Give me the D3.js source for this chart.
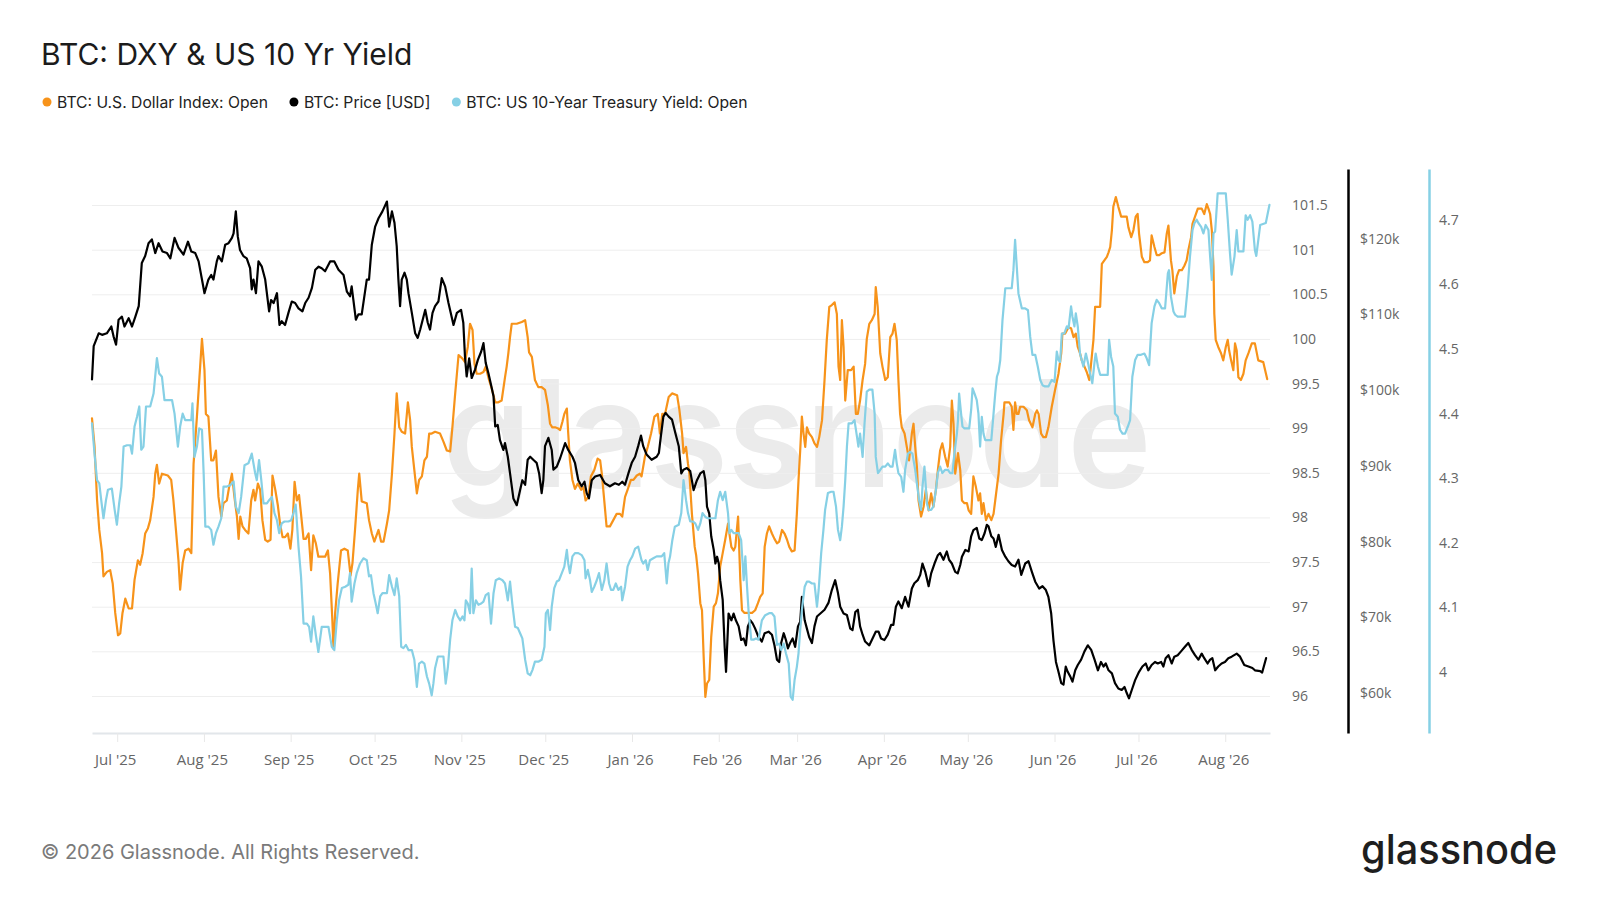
<!DOCTYPE html>
<html>
<head>
<meta charset="utf-8">
<title>BTC: DXY & US 10 Yr Yield</title>
<script src="https://cdn.jsdelivr.net/npm/d3@7"></script>
<style>
  body { margin: 0; background: #fff; }
  svg { display: block; font-family: Inter, "Noto Sans", sans-serif; }
  .axis text { font-family: "Open Sans", "Noto Sans", sans-serif; font-size: 14px; fill: #666; }
  .xaxis text { font-size: 15px; }
</style>
</head>
<body>
<div id="chart"></div>
<script>
// series: [days since 2025-06-22, value]
var startDate = new Date(2025, 5, 22);
var lastDay = 421;

var seriesNames = ["BTC: U.S. Dollar Index: Open", "BTC: Price [USD]", "BTC: US 10-Year Treasury Yield: Open"];

var dxyOpen = [[0,99.11],[0.9,98.8],[1.8,98.2],[2.6,97.86],[3.6,97.6],[4.1,97.34],[5.3,97.39],[6.5,97.41],[7.4,97.26],[8.3,96.93],[9.3,96.68],[10.1,96.7],[10.9,96.93],[11.9,97.09],[13.1,96.98],[14.3,96.98],[15.2,97.3],[16.4,97.52],[17.2,97.47],[18.1,97.6],[19,97.82],[20,97.88],[20.8,97.97],[22,98.23],[22.6,98.49],[23.2,98.59],[24,98.38],[25,98.49],[27.1,98.47],[28.3,98.42],[29.1,98.19],[30,97.86],[30.9,97.52],[31.5,97.19],[32.4,97.49],[33.3,97.63],[34.5,97.65],[35.5,97.6],[36.3,98.6],[37.5,99.13],[38.4,99.57],[39.3,100],[40.2,99.65],[40.7,99.16],[41.6,99.13],[42.6,98.64],[43.4,98.64],[44.3,98.75],[45.2,98.23],[46.2,98.01],[47,98.16],[48.2,98.19],[49,98.34],[50,98.49],[50.9,98.23],[51.8,98.01],[52.4,97.76],[53,98.01],[53.8,97.9],[54.7,97.86],[55.9,97.82],[56.9,98.19],[57.7,98.31],[58.3,98.19],[59.3,98.38],[60.1,98.31],[60.9,97.97],[61.9,97.75],[62.8,97.73],[63.8,97.75],[64.5,98.47],[65.5,98.31],[66.4,98.14],[67.2,97.93],[68.1,97.78],[69,97.78],[70,97.82],[70.9,97.65],[71.6,97.86],[72.4,98.4],[73.2,98.19],[74,98.25],[74.7,98.04],[75.6,97.76],[76.4,97.76],[77.4,97.82],[78.3,97.41],[79.1,97.8],[80,97.71],[80.9,97.56],[82.1,97.56],[83.3,97.56],[84.3,97.63],[85.1,97.37],[85.9,96.85],[86.3,96.53],[86.9,96.93],[87.8,97.26],[89,97.63],[90.2,97.65],[91.4,97.63],[92.4,97.35],[93.1,97.49],[94,97.86],[95,98.31],[95.5,98.49],[96.4,98.18],[98.2,98.16],[99,97.97],[100,97.82],[100.9,97.73],[102.4,97.86],[103.3,97.73],[104.2,97.73],[105.4,97.93],[106.2,98.08],[107.2,98.49],[108.1,98.94],[108.9,99.39],[109.8,99.01],[110.7,98.96],[111.9,98.94],[112.9,99.29],[113.7,99.09],[114.3,98.79],[115.2,98.53],[116.1,98.27],[116.9,98.42],[117.9,98.46],[118.8,98.64],[119.7,98.68],[120.5,98.94],[121.4,98.94],[122.6,98.96],[124.4,98.94],[125.6,98.85],[126.8,98.75],[128,98.74],[128.8,99.01],[129.8,99.39],[131,99.82],[132.4,99.78],[133.3,99.74],[134.3,99.91],[135.1,100.17],[136,100.1],[136.7,99.72],[137.5,99.61],[138.7,99.61],[139.9,99.63],[140.7,99.69],[141.9,99.54],[142.9,99.44],[144.1,99.29],[145.2,99.29],[146.4,99.31],[147.6,99.57],[148.2,99.69],[148.8,99.84],[149.4,100.02],[150,100.17],[151.8,100.17],[153.6,100.19],[154.8,100.21],[155.7,100.02],[156.2,99.85],[157.2,99.8],[158.3,99.54],[159.5,99.46],[160.7,99.46],[161.9,99.43],[162.9,99.26],[163.7,99.05],[164.5,99.01],[165.5,99.01],[166.4,99],[167.3,98.98],[168.1,99.07],[168.8,99.16],[169.7,99.22],[170.2,98.94],[170.8,98.64],[171.7,98.42],[172.6,98.32],[173.6,98.38],[174.8,98.31],[175.6,98.34],[176.4,98.19],[177.4,98.23],[178.3,98.46],[179.5,98.53],[180.7,98.66],[181.6,98.64],[182.2,98.49],[183.1,98.18],[183.9,97.9],[185.1,97.9],[186.3,97.97],[187.5,98.04],[188.7,98.04],[189.5,98.01],[190.5,98.23],[191.4,98.31],[192.6,98.42],[193.5,98.42],[194.7,98.47],[195.8,98.49],[196.4,98.46],[197.6,98.68],[198.6,98.79],[199.8,98.94],[201,99.13],[202.2,99.16],[203,98.94],[203.8,99.16],[204.8,99.16],[206.1,99.35],[207.3,99.39],[209.1,99.37],[209.9,99.21],[210.9,98.94],[211.4,98.72],[212.3,98.79],[213,98.6],[213.5,98.49],[214.4,98.04],[215.4,97.67],[215.9,97.58],[216.6,97.37],[217.4,97.04],[218,96.96],[218.6,96.44],[219.2,95.99],[219.8,96.14],[220.6,96.18],[221.3,96.66],[222.2,97],[223,97.04],[223.7,97.15],[224.5,97.45],[225.4,97.6],[226.3,97.75],[227.3,97.93],[227.8,97.82],[228.5,97.67],[229.3,97.63],[229.9,97.67],[230.9,98.01],[231.7,97.3],[232.3,96.96],[233.2,96.93],[234.4,96.93],[235.9,96.93],[237,96.96],[238,97.04],[238.8,97.11],[239.7,97.15],[240.4,97.67],[241.2,97.82],[242,97.9],[243,97.82],[243.9,97.76],[244.8,97.71],[245.6,97.73],[246.6,97.86],[247.5,97.82],[248.4,97.75],[249.2,97.67],[250.1,97.62],[251.1,97.63],[251.9,98.04],[252.5,98.42],[253.1,98.75],[253.7,99.13],[254.3,98.94],[254.9,98.79],[255.5,99.01],[256.3,98.94],[257.3,98.9],[258.2,98.83],[259.1,98.79],[259.9,98.9],[260.9,99.09],[261.8,99.54],[262.6,99.99],[263.5,100.36],[264.4,100.38],[265.4,100.41],[266.2,100.28],[266.8,99.69],[267.4,99.54],[268,100.21],[268.6,99.91],[269.2,99.31],[270.1,99.65],[271.3,99.65],[272.2,99.69],[273,99.16],[273.7,99.16],[274.5,99.31],[275.4,99.54],[276.3,99.72],[276.9,100],[277.8,100.17],[278.7,100.21],[279.7,100.28],[280.1,100.58],[280.8,100.36],[281.7,99.84],[282.5,99.69],[283.5,99.54],[284.4,99.57],[285.3,100.02],[286.1,100.06],[286.8,100.17],[287.6,99.99],[288.2,99.54],[288.8,99.16],[289.4,99.01],[290.4,98.94],[291.2,98.79],[292,98.64],[293,98.94],[293.6,99.05],[294.2,98.79],[294.8,98.57],[295.4,98.19],[296.3,98.01],[297.2,98.12],[298,98.31],[299,98.08],[299.9,98.27],[300.7,98.12],[301.6,98.31],[302.3,98.53],[303.1,98.75],[303.9,98.83],[304.9,98.68],[305.8,98.57],[306.7,98.79],[307.3,99.31],[307.9,99.05],[308.5,98.49],[309.5,98.72],[310.3,98.53],[310.9,98.19],[311.8,98.16],[312.7,98.16],[313.3,98.08],[314.2,98.04],[315,98.46],[315.9,98.34],[316.8,98.19],[317.4,98.27],[318,98.04],[318.6,98.16],[319.5,97.97],[320.4,98.04],[321.4,97.97],[322.2,98.04],[322.8,98.19],[324,98.49],[324.9,98.87],[325.8,99.16],[326.1,99.29],[327,99.29],[327.8,99.29],[328.7,99.24],[329.3,98.98],[329.9,99.29],[330.5,99.16],[331.1,99.16],[331.7,99.24],[332.9,99.24],[334.1,99.2],[334.9,99.09],[336.1,99.01],[337.1,99.16],[337.7,99.2],[338.3,99.16],[339.2,98.94],[340,98.9],[340.9,98.9],[341.8,99.01],[343,99.24],[344.2,99.43],[345.4,99.61],[346.4,99.84],[346.8,100.06],[347.8,100.06],[349,100.13],[349.9,100.12],[350.8,100.02],[351.6,100.06],[352.3,99.91],[353.1,99.84],[353.7,99.76],[354.7,99.69],[355.5,99.63],[356.4,99.54],[356.7,99.61],[357.3,99.8],[357.9,99.99],[358.5,100.36],[359.5,100.36],[360.3,100.36],[360.9,100.84],[361.8,100.88],[362.7,100.92],[363.3,100.97],[363.9,101.03],[364.5,101.22],[365,101.48],[365.9,101.59],[366.8,101.48],[367.8,101.37],[369,101.37],[369.8,101.37],[370.4,101.25],[371.4,101.14],[372.2,101.22],[373,101.37],[373.7,101.4],[374.2,101.18],[375.2,100.92],[376.1,100.86],[377.3,100.86],[378.1,100.88],[378.7,101.16],[379.7,101.03],[380.5,100.94],[381.4,100.94],[382.3,100.96],[383.3,100.97],[384.1,101.18],[384.7,101.27],[385.6,100.88],[386.1,100.77],[386.8,100.51],[387.7,100.7],[388.5,100.77],[389.5,100.77],[390.4,100.82],[391.2,100.88],[391.8,100.99],[392.8,101.14],[393.3,101.29],[394.2,101.37],[395.2,101.46],[396.6,101.46],[397.5,101.4],[398.4,101.51],[399,101.46],[399.6,101.4],[400.2,101.22],[400.8,100.81],[401.1,100.28],[401.6,99.99],[402.5,99.91],[403.5,99.84],[404.3,99.76],[405.2,99.91],[405.9,99.99],[406.4,99.87],[407.1,99.76],[407.9,99.65],[408.5,99.95],[409.1,99.87],[409.7,99.57],[410.6,99.54],[411.5,99.61],[412.3,99.76],[413.3,99.84],[414.5,99.95],[415.6,99.95],[416.8,99.76],[418.6,99.74],[420,99.55]];

// BTC price in thousands of USD
var btcPrice = [[0,101.4],[0.6,105.8],[2.4,107.5],[3.6,107.3],[5.3,107.5],[6.9,108.4],[7.7,107.1],[8.6,106],[9.5,109.3],[10.7,109.7],[11.6,108.4],[13.1,109.5],[14.3,108.4],[15.5,109.7],[16.7,111.1],[17.8,116.8],[19,117.7],[20.2,119.4],[21.4,119.9],[22.6,118.1],[23.8,119.4],[25.2,118.3],[26.8,118.1],[28,117.4],[29.5,120.1],[30.9,118.8],[32.7,117.9],[34.3,119.6],[35.5,118.3],[36.9,118.1],[38.1,117],[39.3,114.6],[40.2,112.8],[41.6,114.6],[42.6,115.2],[43.4,114.6],[44.6,117],[45.2,117.7],[46.4,117],[47.6,119.2],[48.8,119.4],[50,120.1],[50.6,120.7],[51.4,123.6],[52.1,120.3],[52.9,118.5],[54.1,117.7],[55.3,117.4],[56.5,116.1],[57.1,113.3],[57.7,114.6],[58.6,112.8],[59.5,117],[60.7,116.3],[61.9,114.6],[63.3,110.4],[64,111.9],[64.9,111.5],[66.1,112.8],[67,108.6],[67.8,109.1],[69,108.6],[70.2,110.2],[71.4,111.7],[72.6,111.5],[73.8,110.8],[75.2,110.4],[76.2,111.5],[77.4,112.2],[78.6,113.5],[79.8,115.9],[81,116.3],[82.1,116.1],[83.3,115.7],[85.1,117],[86.6,117],[88.1,115.9],[89.9,115.2],[91.1,113],[92.2,112.4],[92.8,113.7],[94.3,109.3],[95.2,110],[96.4,110],[98.2,114.6],[99,114.6],[100,119.2],[101.2,121.6],[102.4,122.7],[103.8,123.6],[105.4,124.9],[106.2,121.6],[107.2,123.6],[108.1,122.1],[108.9,119],[109.5,114.6],[110.1,111.1],[110.7,114.6],[111.7,115.5],[112.5,114.6],[113.1,112.8],[114.3,110.2],[115.5,107.5],[116.4,106.9],[117.3,108],[119.1,110.6],[120,108.9],[120.8,108],[121.7,110.2],[122.6,111.1],[123.8,111.7],[125,114.8],[126.2,113.7],[127.4,111.5],[129.2,108.6],[130.4,110.2],[131.9,110.6],[132.7,108.9],[133.3,104.4],[133.9,101.8],[134.8,104.2],[135.7,101.6],[136.9,102.7],[137.9,104],[139.1,105.1],[139.9,106.2],[140.7,103.6],[141.7,102.2],[142.6,100.7],[143.5,99.2],[144.1,95.2],[145,95.4],[145.8,93.4],[147,92.1],[147.6,93],[148.6,91.2],[149.4,89],[150.6,85.7],[151.8,84.8],[153,86.8],[153.8,88.1],[154.8,87.5],[155.7,90.8],[156.6,91.2],[157.7,90.8],[158.9,90.4],[159.8,89],[160.7,86.4],[161.3,88.1],[161.9,92.6],[163.1,93.7],[164.3,92.1],[164.9,89.5],[166.1,89.9],[167.3,91],[169.1,93],[170.2,92.1],[171.7,91.2],[172.6,90.4],[173.8,88.1],[175,87.3],[176,87.9],[176.8,86.4],[177.6,85.7],[178.6,88.1],[179.8,88.6],[181.6,88.8],[183.3,87.7],[185.1,87.3],[186.9,87.7],[188.3,87.5],[189.5,87.9],[190.5,87.5],[191.7,89],[192.9,90.4],[194.1,91.2],[195.2,92.6],[196.2,94],[197,92.6],[198.2,91.5],[200,90.8],[201.8,91.2],[202.6,91.7],[203.3,93.9],[204.2,96.5],[205,97],[206.1,96.5],[207.3,96.1],[208.5,94.3],[209.7,92.6],[210.6,89],[211.4,89.5],[212.6,89.7],[213.8,89.3],[215,86.8],[216.2,88.1],[217.4,89],[218.6,89.3],[219.2,88.1],[219.8,84.6],[220.6,83.7],[221.3,80.7],[222.2,78.9],[222.8,77.1],[223.4,78],[224,77.1],[224.5,74.9],[225.4,72.3],[226.1,66.1],[226.6,62.8],[227.5,70.5],[228.5,69.6],[229.3,70.5],[230.1,69.6],[231.1,68.8],[232,67],[232.9,67.2],[233.7,66.3],[234.4,68.8],[235.3,69.6],[236.1,69.2],[237,68.5],[238.2,67.4],[239.4,66.8],[240.4,67.9],[241.8,68.1],[243,67.7],[243.9,66.3],[244.8,64.4],[245.6,64.1],[246.3,66.6],[247.2,67.9],[248,67],[248.7,65.9],[249.5,66.6],[250.4,67.2],[251.3,66.1],[252.3,68.8],[253.1,69.4],[253.7,72.7],[254.7,69.6],[255.5,68.5],[256.3,67.4],[257.3,66.6],[258.2,68.8],[259.1,70.1],[260.3,70.5],[261.8,71],[263.2,71.9],[264.4,73.6],[265.6,74.9],[266.6,73.2],[267.4,71.4],[268.6,70.5],[269.8,70.3],[271,68.5],[271.8,68.3],[272.8,70.7],[273.7,71],[274.5,68.8],[275.4,67.7],[276.3,66.8],[277.8,66.3],[278.7,67],[280.1,68.1],[281.1,68.1],[282,67.2],[283.2,67],[284.4,67.7],[285.6,69],[286.4,69],[287.3,71.4],[288.2,72.1],[289.4,71.2],[290.6,72.7],[291.8,71.4],[293,73.8],[293.9,74.5],[295.1,74.9],[296,75.6],[296.8,77.1],[297.8,76],[299,74.1],[299.9,75.8],[301.1,77.1],[302.3,78.2],[303.1,78.5],[304.3,77.6],[305.5,78.7],[306.3,77.6],[307.3,77.1],[308.5,76],[309.4,75.8],[310.3,76.9],[310.9,78],[312.1,78.9],[313.3,78.7],[314.2,80.7],[315,81.5],[316.2,81.8],[317.1,80.4],[318,80.2],[319,81.1],[319.8,82.2],[320.4,82],[321.4,80.7],[322.2,80.4],[323,79.3],[324,80.9],[325.2,78.9],[326.4,78],[327.5,77.4],[328.7,76.9],[329.9,76.7],[331.1,77.6],[332.1,75.6],[333.5,77.1],[334.7,77.4],[335.9,76],[337.1,74.7],[338.5,73.8],[339.7,74.1],[340.9,73.6],[341.8,72.7],[342.8,70.5],[343.6,67],[344.5,64.1],[345.4,62.8],[346.4,61.3],[347.2,61.1],[348,63.5],[348.7,62.8],[349.6,62.2],[350.4,61.5],[351.4,63],[352.3,63.7],[353.5,64.4],[354.7,65.5],[355.9,66.3],[357.1,65.7],[358.3,64.4],[359.5,63],[360.6,64.1],[361.5,63.5],[362.3,63.9],[363.3,63],[364.5,62.6],[365.6,61.3],[366.8,60.6],[368,60.4],[369,60.8],[369.8,60],[370.6,59.3],[371.6,60.4],[372.8,61.7],[374.2,62.8],[375.4,63.5],[376.6,63.9],[377.5,63],[378.7,63.7],[379.9,64.1],[380.9,63.9],[382.1,64.1],[382.9,63.5],[383.7,64.6],[384.7,65],[385.9,63.9],[386.8,64.8],[388,65],[389.2,65.5],[390.6,66.1],[391.8,66.6],[393,65.7],[394.2,65],[395.4,64.4],[396.6,65.2],[397.5,64.6],[398.7,63.9],[399.6,64.4],[400.4,64.6],[401.4,63],[402.5,63.5],[403.7,63.9],[404.9,64.1],[406.1,64.6],[407.3,64.8],[409.1,65.2],[410.3,64.8],[411.8,63.7],[413.3,63.5],[414.7,63.3],[415.6,63],[417.5,62.9],[418.2,62.7],[419.6,64.6]];

var us10y = [[0,4.385],[0.9,4.338],[1.8,4.297],[2.6,4.292],[3.3,4.266],[4.1,4.238],[5,4.266],[5.7,4.282],[7.1,4.284],[8.1,4.251],[8.9,4.228],[9.7,4.261],[10.5,4.287],[11.3,4.349],[12.5,4.351],[13.7,4.351],[14.3,4.338],[15.2,4.38],[16.1,4.395],[16.9,4.411],[17.6,4.344],[18.4,4.349],[19.3,4.411],[20.8,4.411],[22,4.431],[23.2,4.486],[24,4.462],[25,4.457],[25.9,4.421],[27.1,4.421],[28.6,4.421],[29.5,4.4],[30.7,4.349],[31.5,4.38],[32.4,4.4],[33.3,4.39],[34.5,4.39],[35.5,4.39],[35.9,4.416],[36.6,4.333],[37.5,4.349],[38.3,4.377],[39.3,4.375],[39.9,4.308],[40.5,4.225],[41.6,4.225],[42.6,4.22],[43.4,4.197],[44.3,4.215],[45.2,4.225],[46.2,4.238],[47,4.287],[48.2,4.287],[49.4,4.289],[50.6,4.295],[51.4,4.256],[52.4,4.246],[53.3,4.271],[54.5,4.32],[55.9,4.323],[57.1,4.338],[58.3,4.308],[58.9,4.297],[59.7,4.328],[60.5,4.297],[61.3,4.261],[62.5,4.261],[63.3,4.266],[64.3,4.271],[65.2,4.246],[66.1,4.235],[66.9,4.215],[67.8,4.23],[68.8,4.233],[70.2,4.233],[71.2,4.235],[72,4.246],[72.8,4.259],[73.8,4.194],[74.7,4.148],[75.6,4.075],[76.8,4.075],[77.6,4.07],[78.3,4.047],[79.1,4.086],[80,4.057],[80.9,4.031],[82.1,4.07],[83.3,4.07],[84.5,4.07],[85.7,4.039],[86.6,4.034],[87.5,4.08],[88.3,4.111],[89.3,4.13],[90.5,4.132],[91.6,4.135],[92.2,4.153],[92.8,4.109],[93.8,4.137],[94.6,4.153],[95.8,4.168],[97,4.176],[98.2,4.173],[99,4.148],[99.7,4.15],[100.6,4.122],[101.4,4.106],[102.1,4.091],[103,4.117],[103.8,4.122],[105.4,4.122],[106.2,4.15],[107.2,4.132],[108.1,4.119],[108.9,4.145],[109.8,4.117],[110.5,4.039],[111.3,4.037],[112.2,4.042],[113.1,4.034],[114.3,4.034],[115.2,4.019],[116.1,3.977],[116.9,4.013],[117.9,4.016],[118.8,4.013],[119.7,3.993],[120.5,3.982],[121.4,3.964],[122,3.982],[122.6,4.006],[123.6,4.024],[124.8,4.024],[125.6,4.024],[126.4,3.982],[127.2,4.008],[128,4.05],[128.8,4.08],[129.8,4.096],[130.7,4.086],[131.6,4.08],[132.4,4.086],[133.1,4.08],[133.6,4.111],[134.3,4.106],[135.1,4.091],[135.7,4.16],[136.3,4.091],[137.2,4.111],[138.1,4.104],[139.1,4.106],[139.9,4.109],[140.7,4.119],[141.7,4.122],[142.6,4.075],[143.5,4.122],[144.3,4.142],[145.5,4.145],[146.7,4.142],[147.6,4.137],[148.6,4.111],[149.4,4.14],[150.2,4.106],[151.2,4.07],[152.2,4.068],[153,4.06],[153.8,4.052],[154.8,4.019],[155.7,3.998],[156.6,3.995],[157.4,4.003],[158.3,4.016],[159.5,4.016],[160.7,4.019],[161.7,4.039],[162.2,4.091],[162.9,4.096],[163.7,4.065],[164.3,4.101],[165.2,4.13],[166.1,4.14],[166.9,4.142],[167.9,4.153],[168.8,4.163],[169.7,4.189],[170.2,4.168],[170.8,4.153],[171.7,4.179],[172.6,4.184],[173.8,4.184],[175,4.181],[176,4.173],[176.4,4.145],[177.2,4.158],[178,4.142],[178.6,4.124],[179.5,4.132],[180.4,4.142],[181.2,4.153],[182.2,4.127],[183.1,4.142],[183.9,4.168],[184.8,4.137],[185.5,4.127],[186.3,4.127],[187.2,4.137],[188.1,4.127],[189.1,4.132],[189.5,4.111],[190.5,4.132],[191.4,4.163],[192.3,4.173],[193.1,4.179],[194.1,4.191],[195.2,4.194],[196.4,4.173],[197,4.168],[197.9,4.173],[198.6,4.158],[199.4,4.173],[200.6,4.176],[201.8,4.179],[202.6,4.179],[203.6,4.179],[204.5,4.184],[205.4,4.137],[206,4.168],[206.6,4.179],[207.4,4.204],[208.3,4.225],[209.7,4.228],[210.6,4.246],[211.4,4.297],[212.3,4.266],[213,4.246],[213.8,4.233],[214.7,4.233],[215.6,4.23],[216.6,4.22],[217.4,4.23],[218.2,4.246],[219.2,4.24],[220.1,4.238],[221.8,4.238],[222.8,4.238],[223.7,4.266],[224.5,4.279],[225.4,4.266],[226.3,4.279],[227.3,4.246],[227.8,4.215],[228.5,4.22],[229.3,4.215],[231.1,4.215],[232,4.204],[232.9,4.142],[233.5,4.179],[234.1,4.132],[234.7,4.091],[235.6,4.05],[236.4,4.05],[237.3,4.052],[238.2,4.05],[239.4,4.08],[240.6,4.088],[242,4.091],[243,4.091],[243.9,4.086],[244.8,4.042],[245.6,4.044],[246.3,4.034],[247.2,4.044],[248,4.029],[249,4.013],[249.7,3.962],[250.4,3.957],[251.1,3.988],[251.9,4.008],[252.5,4.029],[253.1,4.065],[253.7,4.096],[254.7,4.132],[255.5,4.14],[256.3,4.14],[257.3,4.137],[258.2,4.137],[259.1,4.101],[259.7,4.127],[260.6,4.184],[261.4,4.22],[262,4.251],[263,4.277],[264.2,4.279],[265,4.279],[265.9,4.256],[266.6,4.22],[267.4,4.204],[268,4.225],[268.6,4.256],[269.2,4.297],[269.8,4.349],[270.4,4.385],[271.6,4.385],[272.5,4.39],[273.4,4.364],[273.9,4.349],[274.5,4.369],[275.4,4.333],[276.1,4.385],[276.9,4.434],[277.8,4.437],[278.9,4.437],[279.7,4.4],[280.1,4.333],[280.9,4.308],[281.7,4.313],[282.5,4.318],[283.5,4.318],[284.4,4.323],[285.3,4.318],[286.1,4.318],[287,4.344],[287.6,4.323],[288.2,4.308],[289.2,4.302],[290,4.279],[290.6,4.313],[291.6,4.338],[292.4,4.341],[293.2,4.338],[294.2,4.313],[294.8,4.292],[295.6,4.266],[296.3,4.251],[296.8,4.287],[297.5,4.318],[298.4,4.261],[299,4.251],[299.9,4.251],[300.7,4.256],[301.6,4.282],[302.3,4.308],[303.1,4.318],[303.9,4.308],[304.9,4.313],[305.9,4.313],[306.7,4.308],[307.5,4.308],[308.2,4.338],[309.1,4.369],[309.5,4.39],[309.9,4.431],[310.6,4.4],[311.1,4.38],[311.8,4.377],[312.7,4.377],[313.5,4.377],[314.2,4.406],[314.7,4.439],[315.4,4.431],[316.2,4.421],[316.8,4.4],[317.4,4.349],[318,4.395],[318.6,4.369],[319.2,4.359],[320.4,4.359],[321.4,4.359],[322.2,4.4],[322.8,4.431],[323.4,4.457],[324,4.465],[324.6,4.483],[325.4,4.545],[326.4,4.594],[327.5,4.594],[328.7,4.594],[329.3,4.622],[329.9,4.669],[330.5,4.627],[331.1,4.586],[332.3,4.563],[333.5,4.563],[334.5,4.56],[335.3,4.519],[336.1,4.491],[337.1,4.491],[338,4.473],[338.9,4.452],[339.7,4.444],[340.6,4.442],[341.8,4.442],[343,4.452],[344,4.449],[344.8,4.496],[345.4,4.483],[346,4.48],[346.6,4.524],[347.5,4.524],[348.4,4.535],[349,4.532],[349.9,4.566],[350.4,4.55],[351.1,4.535],[351.6,4.555],[352.3,4.535],[353.1,4.493],[353.7,4.483],[354.3,4.473],[355.2,4.493],[355.9,4.48],[356.7,4.462],[357.5,4.447],[358.3,4.48],[358.7,4.493],[359.5,4.473],[360.3,4.46],[361.5,4.46],[363,4.46],[363.5,4.514],[364.2,4.488],[365,4.473],[365.6,4.4],[366.6,4.395],[367.4,4.375],[368.3,4.369],[369.2,4.369],[370.2,4.38],[371,4.39],[371.8,4.457],[372.8,4.483],[373.7,4.491],[374.9,4.491],[376.1,4.493],[376.9,4.486],[377.8,4.475],[378.7,4.54],[379.7,4.566],[380.5,4.576],[381.4,4.571],[382.3,4.563],[383.5,4.563],[384.5,4.617],[384.9,4.622],[385.6,4.581],[386.5,4.558],[387.1,4.553],[388,4.55],[389.5,4.55],[390.6,4.55],[391.6,4.596],[392.4,4.643],[393.3,4.684],[394,4.695],[394.8,4.7],[395.4,4.695],[396.4,4.689],[397.2,4.679],[398,4.692],[399,4.684],[399.6,4.643],[400.2,4.607],[400.8,4.679],[401.4,4.682],[402.3,4.741],[403.1,4.741],[404.3,4.741],[405.2,4.741],[405.9,4.7],[406.7,4.648],[407.3,4.615],[408.3,4.643],[409.1,4.684],[409.7,4.651],[410.6,4.651],[411.5,4.651],[412.3,4.707],[413,4.7],[413.9,4.707],[414.7,4.697],[415.6,4.653],[416.1,4.644],[417.5,4.692],[419.5,4.695],[420.8,4.723]];

var dxyTicks = [96, 96.5, 97, 97.5, 98, 98.5, 99, 99.5, 100, 100.5, 101, 101.5];
var priceTicks = [60, 70, 80, 90, 100, 110, 120];
var yieldTicks = [4, 4.1, 4.2, 4.3, 4.4, 4.5, 4.6, 4.7];

var W = 1600, H = 900;
var plot = { left: 92, right: 1270, top: 169, bottom: 733 };
var colors = { dxy: "#f7931a", price: "#000000", yld: "#86d0e5" };

function toDate(d) { return new Date(startDate.getTime() + d * 864e5); }

var x = d3.scaleTime()
    .domain([startDate, toDate(lastDay)])
    .range([plot.left, plot.right]);

var yDxy = d3.scaleLinear().domain([95.585, 101.904]).range([plot.bottom, plot.top]);
var yPrice = d3.scaleLinear().domain([54.72, 129.2]).range([plot.bottom, plot.top]);
var yYield = d3.scaleLinear().domain([3.9056, 4.7786]).range([plot.bottom, plot.top]);

var svg = d3.select("#chart").append("svg")
    .attr("width", W)
    .attr("height", H);

// watermark behind everything
svg.append("text")
    .attr("x", 797)
    .attr("y", 487)
    .attr("text-anchor", "middle")
    .attr("font-size", 148)
    .attr("font-weight", 600)
    .attr("fill", "#ebebeb")
    .attr("textLength", 709)
    .attr("lengthAdjust", "spacingAndGlyphs")
    .text("glassnode");

// title + legend
svg.append("text")
    .attr("x", 41).attr("y", 65)
    .attr("font-size", 30)
    .attr("fill", "#1b1b1b")
    .text("BTC: DXY & US 10 Yr Yield");

var legend = svg.append("g").attr("transform", "translate(47,102)");
var lx = 0;
[colors.dxy, colors.price, colors.yld].forEach(function(c, i) {
  var item = legend.append("g").attr("transform", "translate(" + lx + ",0)");
  item.append("circle").attr("r", 4.5).attr("fill", c);
  var t = item.append("text")
      .attr("x", 10).attr("y", 5.5)
      .attr("font-size", 15.7)
      .attr("fill", "#222")
      .text(seriesNames[i]);
  lx += 10 + t.node().getComputedTextLength() + 26;
});

// gridlines + DXY labels
svg.append("g")
    .attr("class", "axis")
    .attr("transform", "translate(" + plot.right + ",0)")
    .call(d3.axisRight(yDxy)
        .tickValues(dxyTicks)
        .tickSizeInner(-(plot.right - plot.left))
        .tickSizeOuter(0)
        .tickPadding(22)
        .tickFormat(function(d) { return String(d); }))
    .call(function(g) {
      g.select(".domain").remove();
      g.selectAll(".tick line").attr("stroke", "#eeeeee");
    });

// x axis
svg.append("g")
    .attr("class", "axis xaxis")
    .attr("transform", "translate(0," + plot.bottom + ")")
    .call(d3.axisBottom(x)
        .ticks(d3.timeMonth.every(1))
        .tickSizeInner(9)
        .tickSizeOuter(0)
        .tickPadding(12)
        .tickFormat(d3.timeFormat("%b '%y")))
    .call(function(g) {
      g.select(".domain").attr("stroke", "#e2e6ea").attr("stroke-width", 2);
      g.selectAll(".tick line").attr("stroke", "#e8e8e8");
      g.selectAll(".tick text").attr("dx", -2);
    });

// price axis (black)
svg.append("g")
    .attr("class", "axis")
    .attr("transform", "translate(1348,0)")
    .call(d3.axisRight(yPrice)
        .tickValues(priceTicks)
        .tickSize(0)
        .tickPadding(12)
        .tickFormat(function(d) { return "$" + d + "k"; }))
    .call(function(g) {
      g.select(".domain").attr("stroke", "#000").attr("stroke-width", 2.5);
    });

// yield axis (blue)
svg.append("g")
    .attr("class", "axis")
    .attr("transform", "translate(1429,0)")
    .call(d3.axisRight(yYield)
        .tickValues(yieldTicks)
        .tickSize(0)
        .tickPadding(10)
        .tickFormat(function(d) { return String(+d.toFixed(1)); }))
    .call(function(g) {
      g.select(".domain").attr("stroke", colors.yld).attr("stroke-width", 2.5);
    });

function lineFor(scale) {
  return d3.line()
      .x(function(d) { return x(toDate(d[0])); })
      .y(function(d) { return scale(d[1]); });
}

var lines = svg.append("g").attr("fill", "none")
    .attr("stroke-width", 2.2)
    .attr("stroke-linejoin", "round")
    .attr("stroke-linecap", "round");

lines.append("path").datum(dxyOpen).attr("stroke", colors.dxy).attr("d", lineFor(yDxy));
lines.append("path").datum(btcPrice).attr("stroke", colors.price).attr("d", lineFor(yPrice));
lines.append("path").datum(us10y).attr("stroke", colors.yld).attr("d", lineFor(yYield));

// footer
svg.append("text")
    .attr("x", 41).attr("y", 859)
    .attr("font-size", 20)
    .attr("fill", "#7a7a7a")
    .text("\u00a9 2026 Glassnode. All Rights Reserved.");

svg.append("text")
    .attr("x", 1557).attr("y", 864)
    .attr("text-anchor", "end")
    .attr("font-size", 41)
    .attr("font-weight", 500)
    .attr("fill", "#1e1e1e")
    .attr("textLength", 196)
    .attr("lengthAdjust", "spacingAndGlyphs")
    .text("glassnode");
</script>
</body>
</html>
